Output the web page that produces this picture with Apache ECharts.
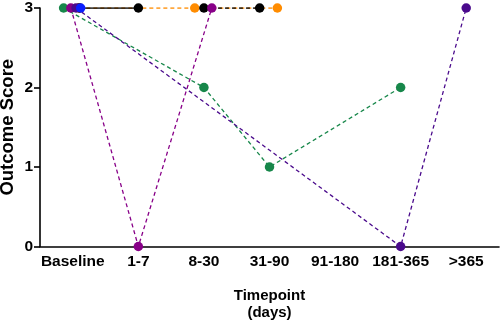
<!DOCTYPE html>
<html><head><meta charset="utf-8">
<script src="https://cdn.jsdelivr.net/npm/echarts@6/dist/echarts.min.js"></script>
<style>html,body{margin:0;padding:0;background:#fff}#c{width:500px;height:324px}</style>
</head><body><div id="c"></div>
<script>
// ---- data ----
var categories = ['Baseline', '1-7', '8-30', '31-90', '91-180', '181-365', '>365'];
var yTicks = [0, 1, 2, 3];

var greenCats = ['Baseline', '8-30', '31-90', '181-365'];
var greenVals = [3, 2, 1, 2];
var purpleCats = ['Baseline', '1-7', '8-30'];
var purpleVals = [3, 0, 3];
var indigoCats = ['Baseline', '181-365', '>365'];
var indigoVals = [3, 0, 3];
var blueCats = ['Baseline'];
var blueVals = [3];
var orangeCats = ['Baseline', '8-30', '31-90'];
var orangeVals = [3, 3, 3];
var blackSolidCats = ['Baseline', '1-7'];
var blackSolidVals = [3, 3];
var blackDashCats = ['8-30', '31-90'];
var blackDashVals = [3, 3];

// ---- presentation (horizontal jitter in band units, styles) ----
function pts(cats, vals, jitter) {
  return cats.map(function (c, i) { return [categories.indexOf(c) + (jitter[i] || 0), vals[i]]; });
}
function mk(name, data, color, dashed, z) {
  return {
    name: name, type: 'line', xAxisIndex: 1, data: data, z: z,
    symbol: 'circle', symbolSize: 9.5,
    itemStyle: { color: color },
    lineStyle: { color: color, width: dashed ? 1.3 : 1.5, type: dashed ? [4, 3] : 'solid' },
    animation: false
  };
}
var series = [
  mk('orange', pts(orangeCats, orangeVals, [0.1, -0.14, 0.12]), '#FF8C00', true, 2),
  mk('blackSolid', pts(blackSolidCats, blackSolidVals, [0.1, 0]), '#000000', false, 3),
  mk('blackDash', pts(blackDashCats, blackDashVals, [0, -0.15]), '#000000', true, 4),
  mk('green', pts(greenCats, greenVals, [-0.14, 0, 0, 0]), '#17874A', true, 5),
  mk('purple', pts(purpleCats, purpleVals, [-0.03, 0, 0.12]), '#880088', true, 6),
  mk('indigo', pts(indigoCats, indigoVals, [0.05, 0, 0]), '#4A0A8C', true, 7),
  mk('blue', pts(blueCats, blueVals, [0.12]), '#0A1EFF', true, 8)
];

var chart = echarts.init(document.getElementById('c'), null, { renderer: 'canvas' });
var bold = { fontFamily: 'Liberation Sans, Arial, sans-serif', fontWeight: 'bold', color: '#000' };
chart.setOption({
  animation: false,
  grid: { left: 40, right: 1, top: 8, bottom: 77.5, containLabel: false, outerBoundsMode: 'none' },
  xAxis: [{
    type: 'category', data: categories, boundaryGap: true,
    axisLine: { onZero: false, lineStyle: { color: '#000', width: 1.6 } },
    axisTick: { alignWithLabel: true, length: 6, lineStyle: { color: '#000', width: 1.6 } },
    axisLabel: Object.assign({ fontSize: 15.5, margin: 7, interval: 0 }, bold),
    name: 'Timepoint\n(days)', nameLocation: 'middle', nameGap: 41, nameMoveOverlap: false,
    nameTextStyle: Object.assign({ fontSize: 15, lineHeight: 17 }, bold),
    splitLine: { show: false }
  }, {
    type: 'value', min: -0.5, max: 6.5, show: false
  }],
  yAxis: {
    type: 'value', min: yTicks[0], max: yTicks[yTicks.length - 1], interval: 1,
    axisLine: { show: true, onZero: false, lineStyle: { color: '#000', width: 1.6 } },
    axisTick: { show: true, length: 6, lineStyle: { color: '#000', width: 1.6 } },
    axisLabel: Object.assign({ fontSize: 15.5, margin: 7 }, bold),
    splitLine: { show: false },
    name: 'Outcome Score', nameLocation: 'middle', nameGap: 23, nameMoveOverlap: false,
    nameTextStyle: Object.assign({ fontSize: 18.5 }, bold)
  },
  series: series
});
</script></body></html>
